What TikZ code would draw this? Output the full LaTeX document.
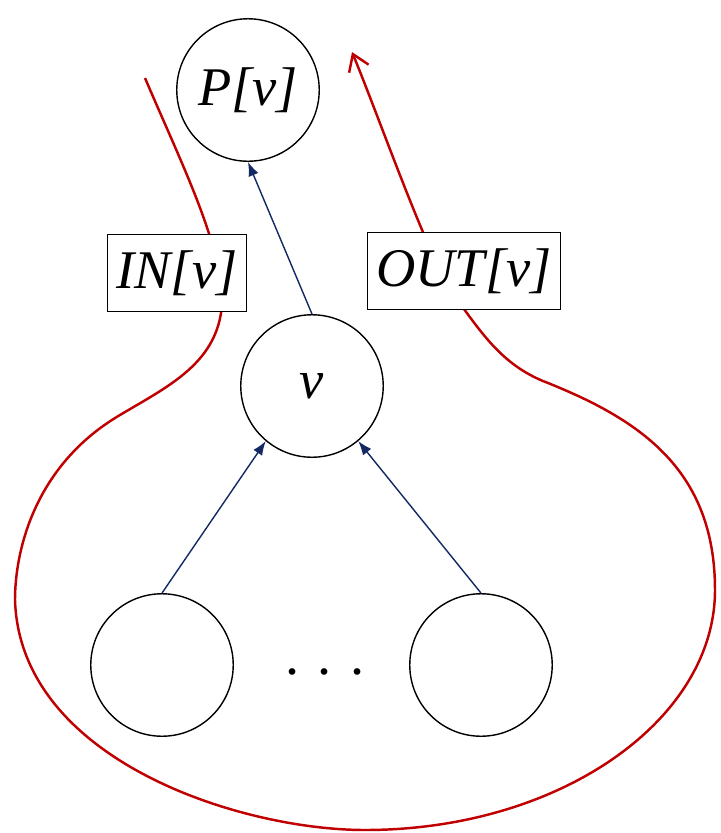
\documentclass[tikz,border=0pt]{standalone}
\usepackage{fontspec}
\setmainfont{Liberation Serif}
\usetikzlibrary{arrows.meta}
\definecolor{treeblue}{RGB}{20,40,100}
\definecolor{setred}{RGB}{192,0,0}
\tikzset{
	vert/.style={circle, draw, thick, minimum size=2.85cm, inner sep=0pt, font=\fontsize{31}{36}\selectfont\itshape},
	lab/.style={draw, fill=white, inner xsep=5pt, inner ysep=9pt, font=\fontsize{31}{36}\selectfont\itshape},
	tree/.style={-{Latex[length=8pt,width=6pt]}, treeblue, thick},
	bound/.style={setred, line width=1.4pt}
}
\begin{document}
\begin{tikzpicture}[x=0.02cm, y=-0.02cm]
	\useasboundingbox (0,0) rectangle (721,833);
	\draw[bound, -{Straight Barb[length=9pt,width=12pt]}]
		(145,78) .. controls (180,160) and (215,230) .. (222,290)
		.. controls (226,360) and (170,385) .. (120,415)
		.. controls (35,465) and (15,550) .. (15,600)
		.. controls (20,760) and (240,830) .. (365,830)
		.. controls (560,830) and (715,720) .. (715,590)
		.. controls (715,470) and (640,420) .. (548,383)
		.. controls (500,365) and (480,330) .. (450,290)
		.. controls (420,235) and (380,120) .. (352,52);
	\node[vert] (pv) at (248,90) {P[v]};
	\node[vert] (v) at (312,386) {v};
	\node[vert] (c1) at (162,665) {};
	\node[vert] (c2) at (481,665) {};
	\node[font=\fontsize{32}{36}\selectfont] (dots) at (325,672) {. . .};
	\node[lab] (in) at (177,273) {IN[v]};
	\node[lab] (out) at (464,271) {OUT[v]};
	\path[tree]
	(v.north) edge (pv.south)
	(c1.north) edge (v.-130)
	(c2.north) edge (v.-50);
\end{tikzpicture}
\end{document}
